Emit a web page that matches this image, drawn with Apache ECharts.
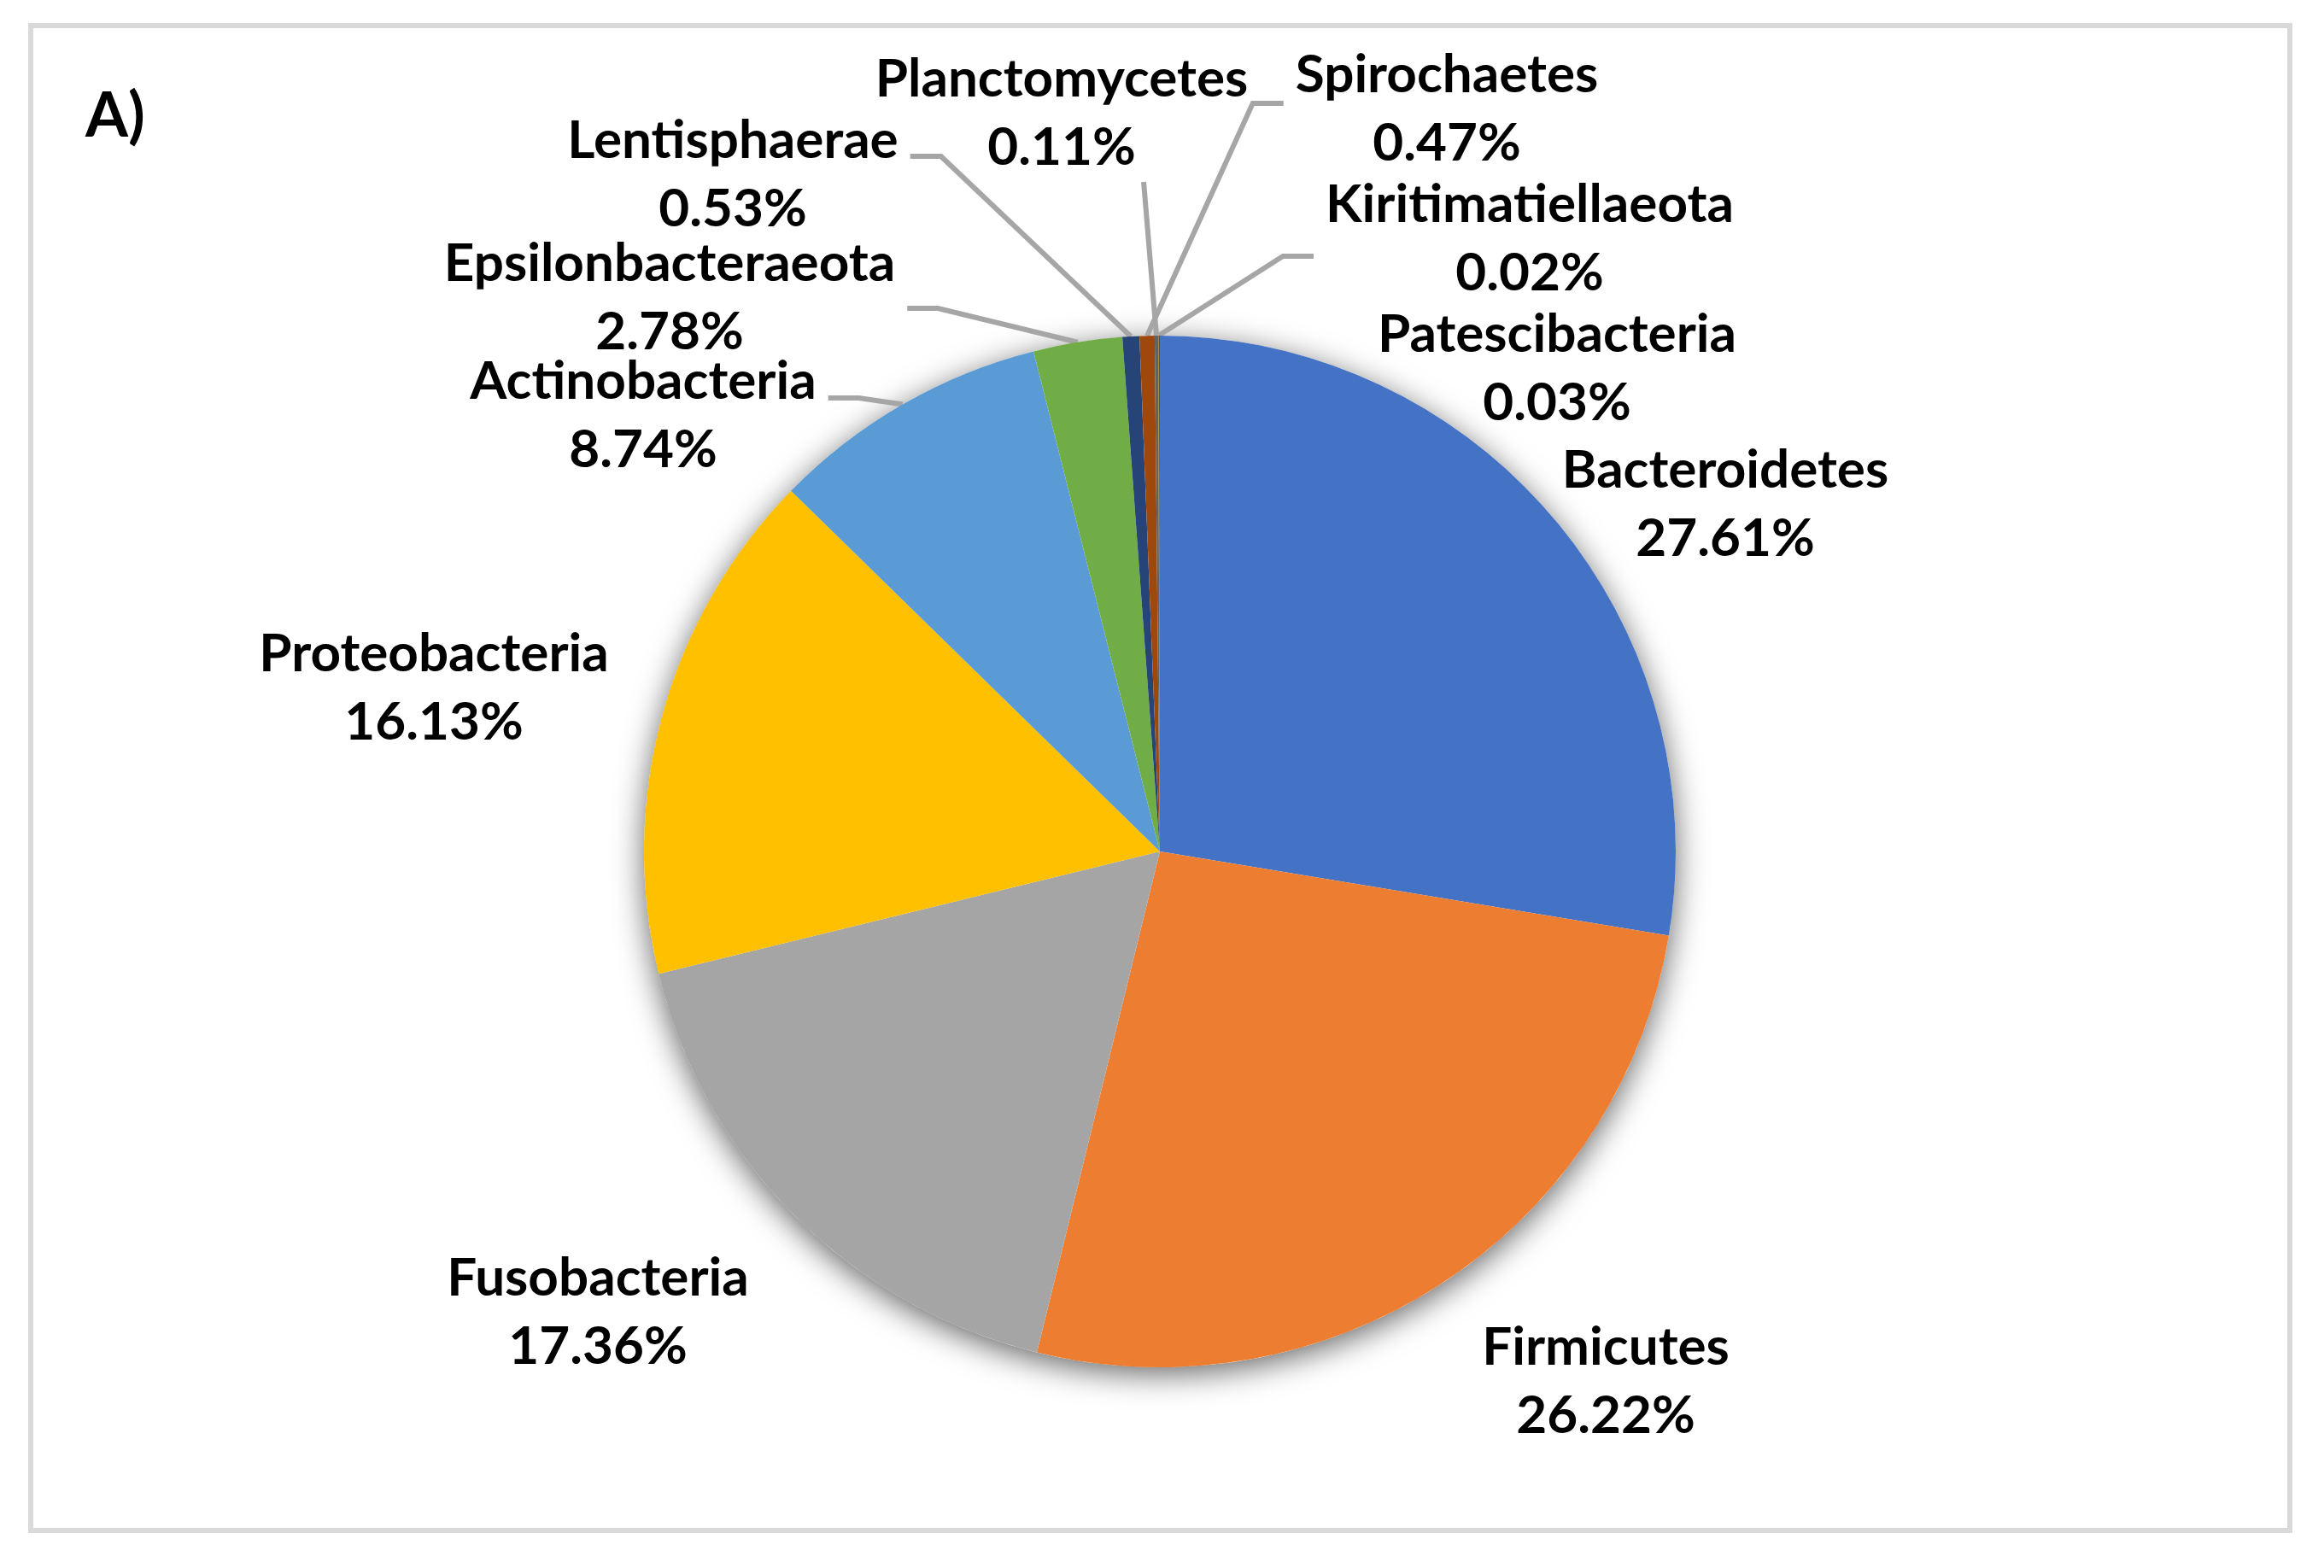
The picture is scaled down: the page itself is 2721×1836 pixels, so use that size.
<!DOCTYPE html>
<html>
<head>
<meta charset="utf-8">
<title>A) phylum composition</title>
<script src="https://cdn.jsdelivr.net/npm/echarts@6/dist/echarts.min.js"></script>
<style>
html, body { margin: 0; padding: 0; background: #fff; }
#chart { width: 2721px; height: 1836px; }
</style>
</head>
<body>
<div id="chart"></div>
<script>
// slices, clockwise from 12 o'clock
var phyla = ['Bacteroidetes', 'Firmicutes', 'Fusobacteria', 'Proteobacteria', 'Actinobacteria',
    'Epsilonbacteraeota', 'Lentisphaerae', 'Spirochaetes', 'Planctomycetes', 'Kiritimatiellaeota',
    'Patescibacteria'];
var shares = [27.61, 26.22, 17.36, 16.13, 8.74, 2.78, 0.53, 0.47, 0.11, 0.02, 0.03];

// styling / label placement (kept apart from the data)
var sliceColors = ['#4472C4', '#ED7D31', '#A5A5A5', '#FFC000', '#5B9BD5', '#70AD47',
    '#264478', '#9E480E', '#636363', '#997300', '#255E91'];
var labelSpots = [[2020, 591], [1880, 1618], [700, 1537], [508, 806], [753, 487], [784, 349],
    [858, 205], [1694, 128], [1243, 133], [1791, 280], [1823, 432]];
var leaderKind = ['none', 'none', 'none', 'none', 'side', 'side', 'side', 'side', 'below', 'side', 'none'];
var leaderDy = [0, 0, 0, 0, -21, 12, -22, -7, 0, 20, 0];

var pieCenter = [1358, 997];
var pieRadius = 604;

var total = 0;
for (var k = 0; k < shares.length; k++) total += shares[k];

var slices = [];
for (var i = 0; i < phyla.length; i++) {
    slices.push({
        name: phyla[i],
        value: shares[i],
        itemStyle: { color: sliceColors[i] },
        labelLine: {
            show: leaderKind[i] !== 'none',
            lineStyle: { color: '#A6A6A6', width: 6 }
        }
    });
}

var dom = document.getElementById('chart');
var myChart = echarts.init(dom);

var option = {
    backgroundColor: '#fff',
    animation: false,
    graphic: [
        {
            type: 'rect',
            shape: { x: 36, y: 30, width: 2645, height: 1762 },
            style: { fill: 'none', stroke: '#D9D9D9', lineWidth: 6 },
            silent: true
        },
        {
            type: 'text',
            x: 100,
            y: 137,
            style: {
                text: 'A)',
                fill: '#000',
                font: 'bold 72px Lato',
                verticalAlign: 'middle'
            },
            silent: true
        }
    ],
    series: [
        {
            // soft shadow behind the pie
            type: 'pie',
            center: pieCenter,
            radius: pieRadius,
            silent: true,
            z: 1,
            label: { show: false },
            labelLine: { show: false },
            itemStyle: {
                color: '#ffffff',
                borderWidth: 0,
                shadowBlur: 36,
                shadowOffsetX: 0,
                shadowOffsetY: 8,
                shadowColor: 'rgba(0,0,0,0.6)'
            },
            data: [{ value: total }]
        },
        {
            type: 'pie',
            center: pieCenter,
            radius: pieRadius,
            startAngle: 90,
            clockwise: true,
            z: 2,
            avoidLabelOverlap: false,
            itemStyle: { borderWidth: 0 },
            emphasis: { scale: false },
            label: {
                show: true,
                position: 'outside',
                formatter: function (p) {
                    return p.name + '\n' + p.value.toFixed(2) + '%';
                },
                fontFamily: 'Lato',
                fontWeight: 'bold',
                fontSize: 62,
                lineHeight: 80,
                color: '#000',
                align: 'center'
            },
            labelLine: {
                length: 30,
                length2: 30,
                lineStyle: { color: '#A6A6A6', width: 6 }
            },
            labelLayout: function (p) {
                var i = p.dataIndex;
                var spot = labelSpots[i];
                var kind = leaderKind[i];
                var out = { x: spot[0], y: spot[1], align: 'center', verticalAlign: 'middle' };
                if (kind !== 'none' && p.labelLinePoints) {
                    var edge = p.labelLinePoints[0];
                    var w = p.labelRect.width;
                    var h = p.labelRect.height;
                    if (kind === 'below') {
                        out.labelLinePoints = [edge, [spot[0] + w * 0.22, spot[1] + h / 2]];
                    } else {
                        var dir = spot[0] < edge[0] ? 1 : -1;
                        var endX = spot[0] + dir * (w / 2 + 14);
                        var ly = spot[1] + leaderDy[i];
                        out.labelLinePoints = [edge, [endX + dir * 36, ly], [endX, ly]];
                    }
                }
                return out;
            },
            data: slices
        }
    ]
};

if (option && typeof option === 'object') {
    myChart.setOption(option, true);
}
</script>
</body>
</html>
